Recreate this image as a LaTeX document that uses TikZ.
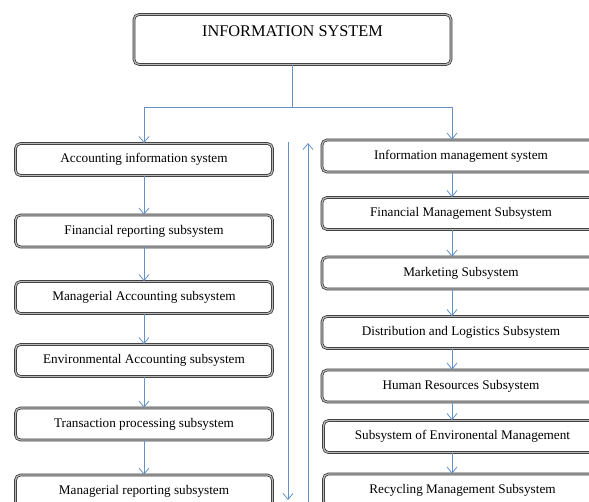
\documentclass[tikz,border=0pt]{standalone}
\usepackage{fontspec}
\setmainfont{Liberation Serif}
\usetikzlibrary{arrows.meta,positioning,calc}
\definecolor{linkblue}{RGB}{100,145,200}
\tikzset{
  sysbox/.style={draw=black!80, double=gray!55, double distance=1.2pt, line width=0.75pt,
    rounded corners=5pt, fill=white, minimum height=32pt, inner sep=2pt,
    font=\fontsize{13.2}{15}\selectfont},
  lbox/.style={sysbox, minimum width=257pt},
  rbox/.style={sysbox, minimum width=278pt},
  link/.style={linkblue, line width=0.8pt},
  linkarr/.style={link, -{Straight Barb[length=6pt,width=10pt]}},
}

\begin{document}
\begin{tikzpicture}[x=1pt,y=-1pt]
        \useasboundingbox (0,0) rectangle (589,502);
        \clip (0,0) rectangle (589,502);

        % main system
        \node[sysbox, minimum width=317pt, text height=20pt, text depth=26pt,
              font=\fontsize{16.3}{18}\selectfont] (infosys) at (292.5,39.5) {INFORMATION SYSTEM};
        \coordinate (split) at (292.5,107);
        \coordinate (rcol) at (452,0);

        % left column
        \node[lbox] (acc) at (144,159.5) {Accounting information system};
        \node[lbox] (finrep) at (144,231) {Financial reporting subsystem};
        \node[lbox] (mgacc) at (144,297.5) {Managerial Accounting subsystem};
        \node[lbox] (envacc) at (144,360.5) {Environmental Accounting subsystem};
        \node[lbox] (trans) at (144,424) {Transaction processing subsystem};
        \node[lbox] (mgrep) at (144,491) {Managerial reporting subsystem};

        % right column
        \node[rbox] (ims) at (461,156) {Information management system};
        \node[rbox] (finmgt) at (461,213.5) {Financial Management Subsystem};
        \node[rbox] (mkt) at (461,273) {Marketing Subsystem};
        \node[rbox] (dist) at (461,332.5) {Distribution and Logistics Subsystem};
        \node[rbox] (hr) at (461,386) {Human Resources Subsystem};
        \node[rbox] (envmgt) at (462.5,436.5) {Subsystem of Environental Management};
        \node[rbox] (recyc) at (462.5,490) {Recycling Management Subsystem};

        % split from the top
        \draw[link] (infosys.south) -- (split);
        \draw[linkarr] (split) -| (acc.north);
        \draw[linkarr] (split) -| (ims.north -| rcol);

        % left chain
        \draw[linkarr] (acc) -- (finrep);
        \draw[linkarr] (finrep) -- (mgacc);
        \draw[linkarr] (mgacc) -- (envacc);
        \draw[linkarr] (envacc) -- (trans);
        \draw[linkarr] (trans) -- (mgrep);

        % right chain
        \draw[linkarr] (ims.south -| rcol) -- (finmgt.north -| rcol);
        \draw[linkarr] (finmgt.south -| rcol) -- (mkt.north -| rcol);
        \draw[linkarr] (mkt.south -| rcol) -- (dist.north -| rcol);
        \draw[linkarr] (dist.south -| rcol) -- (hr.north -| rcol);
        \draw[linkarr] (hr.south -| rcol) -- (envmgt.north -| rcol);
        \draw[linkarr] (envmgt.south -| rcol) -- (recyc.north -| rcol);

        % the two long links between the columns
        \coordinate (downtop) at (288,142);
        \coordinate (downend) at (288,500);
        \coordinate (upbot) at (308,510);
        \coordinate (uptop) at (308,143);
        \draw[linkarr] (downtop) -- (downend);
        \draw[linkarr] (upbot) -- (uptop);
\end{tikzpicture}
\end{document}
